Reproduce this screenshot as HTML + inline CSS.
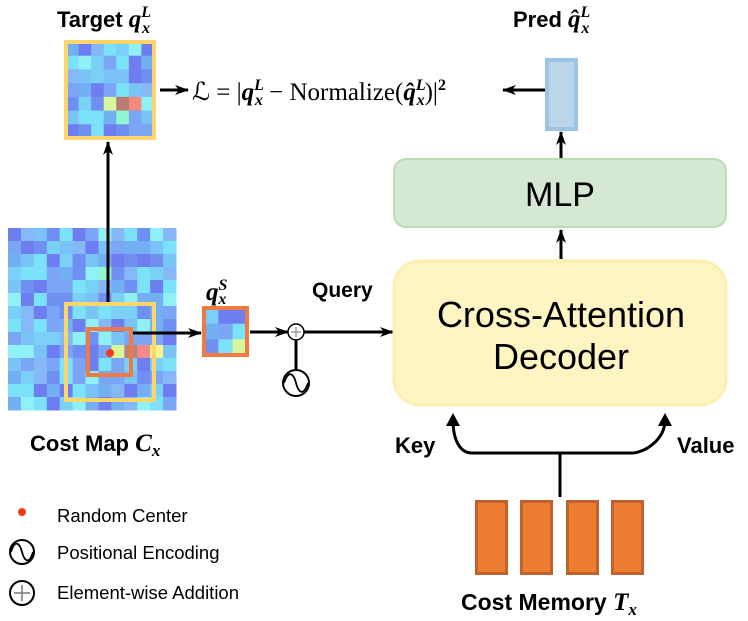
<!DOCTYPE html>
<html><head><meta charset="utf-8"><style>
html,body{margin:0;padding:0;background:#fff;}
svg{display:block;}
text{font-family:"Liberation Sans","DejaVu Sans",sans-serif;fill:#000;}
.b{font-weight:bold;}
.m{font-family:"Liberation Serif","DejaVu Serif",serif;font-style:italic;font-weight:bold;}
.sf{font-family:"Liberation Serif","DejaVu Serif",serif;}
</style></head><body>
<svg id="s" width="748" height="621" viewBox="0 0 748 621" xmlns="http://www.w3.org/2000/svg">
<defs>
<marker id="a" markerWidth="14" markerHeight="12" refX="13" refY="6" orient="auto" markerUnits="userSpaceOnUse">
<path d="M0,1 L14,6 L0,11 L4,6 Z" fill="#000"/></marker>
</defs>
<g id="cm"></g>
<g id="tg"></g>
<g id="qs"></g>
<rect x="66" y="304" width="88" height="96" fill="none" stroke="#fdd56a" stroke-width="4"/>
<rect x="88" y="329" width="43" height="46" fill="none" stroke="#ee7a44" stroke-width="4"/>
<circle cx="110" cy="353" r="4" fill="#f43a16"/>
<rect x="66" y="42" width="88" height="96" fill="none" stroke="#fdd56a" stroke-width="4"/>
<rect x="204" y="308" width="43" height="47" fill="none" stroke="#ee7a44" stroke-width="4"/>
<line x1="108" y1="302" x2="108" y2="142" stroke="#000" stroke-width="3" marker-end="url(#a)"/>
<line x1="133" y1="333" x2="201" y2="333" stroke="#000" stroke-width="3" marker-end="url(#a)"/>
<line x1="160" y1="90" x2="188" y2="90" stroke="#000" stroke-width="3" marker-end="url(#a)"/>
<line x1="545" y1="90" x2="503" y2="90" stroke="#000" stroke-width="3" marker-end="url(#a)"/>
<line x1="250" y1="332" x2="288" y2="332" stroke="#000" stroke-width="3" marker-end="url(#a)"/>
<line x1="304" y1="332" x2="393" y2="332" stroke="#000" stroke-width="3" marker-end="url(#a)"/>
<line x1="296" y1="340" x2="296" y2="370" stroke="#000" stroke-width="3"/>
<circle cx="296" cy="332" r="8" fill="#fff" stroke="#000" stroke-width="1.5"/>
<path d="M291,332 H301 M296,327 V337" stroke="#888" stroke-width="1.2"/>
<circle cx="296" cy="383" r="13" fill="#fff" stroke="#000" stroke-width="2"/>
<path d="M284,383 C289,368 294,375 296,383 C298,391 303,398 308,383" fill="none" stroke="#000" stroke-width="1.8"/>
<rect x="547" y="60" width="29" height="69" fill="#bdd5ea" stroke="#9dc3e6" stroke-width="4"/>
<line x1="561" y1="158" x2="561" y2="132" stroke="#000" stroke-width="3" marker-end="url(#a)"/>
<rect x="394" y="159" width="332" height="68" rx="12" fill="#d5e8d4" stroke="#bcdcb6" stroke-width="2"/>
<text x="560" y="206" font-size="34" text-anchor="middle">MLP</text>
<line x1="561" y1="259" x2="561" y2="230" stroke="#000" stroke-width="3" marker-end="url(#a)"/>
<rect x="394" y="261" width="332" height="144" rx="26" fill="#fff5c3" stroke="#fdeeb3" stroke-width="3"/>
<text x="561" y="327" font-size="36" text-anchor="middle">Cross-Attention</text>
<text x="561" y="369" font-size="36" text-anchor="middle">Decoder</text>
<text x="312" y="297" font-size="21" class="b">Query</text>
<path d="M560,497 V453 M472,453 H632 M472,453 C460,453 453,440 453,420 M632,453 C644,453 665,440 665,420" fill="none" stroke="#000" stroke-width="3"/>
<path d="M446,426 L453,413 L460,426 Z M658,426 L665,413 L672,426 Z" fill="#000"/>
<text x="395" y="453" font-size="22" class="b">Key</text>
<text x="677" y="453" font-size="22" class="b">Value</text>
<g fill="#ed7d31" stroke="#c0622b" stroke-width="3">
<rect x="476.5" y="501.5" width="30" height="72"/>
<rect x="521.5" y="501.5" width="30" height="72"/>
<rect x="567.5" y="501.5" width="30" height="72"/>
<rect x="612.5" y="501.5" width="30" height="72"/>
</g>
<text x="461" y="610" font-size="23" class="b">Cost Memory <tspan class="m" font-size="25">T</tspan><tspan class="m" font-size="17" dy="5">x</tspan></text>
<text x="57" y="27" font-size="22" class="b">Target <tspan class="m" font-size="25">q</tspan><tspan class="m" font-size="16" dy="-10">L</tspan><tspan class="m" font-size="16" dx="-9" dy="16">x</tspan></text>
<text x="513" y="27" font-size="22" class="b">Pred <tspan class="m" font-size="25">q̂</tspan><tspan class="m" font-size="16" dy="-10">L</tspan><tspan class="m" font-size="16" dx="-9" dy="16">x</tspan></text>
<text x="206" y="300" font-size="25" class="m">q<tspan font-size="16" dy="-10">S</tspan><tspan font-size="16" dx="-9" dy="14">x</tspan></text>
<text x="192" y="100" font-size="25" class="sf">ℒ = |<tspan class="m">q</tspan><tspan class="m" font-size="16" dy="-10">L</tspan><tspan class="m" font-size="16" dx="-9" dy="15">x</tspan><tspan dy="-5"> − Normalize(</tspan><tspan class="m">q̂</tspan><tspan class="m" font-size="16" dy="-10">L</tspan><tspan class="m" font-size="16" dx="-9" dy="15">x</tspan><tspan dy="-5">)|</tspan><tspan font-size="16" font-weight="bold" dy="-10">2</tspan></text>
<text x="30" y="451" font-size="22" class="b">Cost Map <tspan class="m" font-size="25">C</tspan><tspan class="m" font-size="17" dy="5">x</tspan></text>
<circle cx="22" cy="512" r="4" fill="#f43a16"/>
<text x="57" y="522" font-size="18.5">Random Center</text>
<circle cx="22" cy="552" r="12" fill="none" stroke="#000" stroke-width="2"/>
<path d="M11,552 C15,538 20,544 22,552 C24,560 29,566 33,552" fill="none" stroke="#000" stroke-width="1.8"/>
<text x="57" y="559" font-size="18.5">Positional Encoding</text>
<circle cx="22" cy="593" r="12" fill="none" stroke="#000" stroke-width="2"/>
<path d="M14,593 H30 M22,585 V601" stroke="#777" stroke-width="1.5"/>
<text x="57" y="599" font-size="18.5">Element-wise Addition</text>
</svg>
<script>
(function(){
var ns="http://www.w3.org/2000/svg";
var pal=["#7aa6f5","#79c3f6","#6f8ff2","#7be2fa","#6e7ef0","#86b8f8","#7ad0f7","#8ff0f6","#73b0f3"];
var seed=7;function r(){seed=(seed*9301+49297)%233280;return seed/233280;}
function grid(g,x0,y0,w,h,c,rw,sp){
 var cw=w/c,ch=h/rw;
 for(var i=0;i<rw;i++)for(var j=0;j<c;j++){
  var col=pal[Math.floor(r()*pal.length)];
  var k=i+","+j; if(sp&&sp[k])col=sp[k];
  var e=document.createElementNS(ns,"rect");
  e.setAttribute("x",x0+j*cw);e.setAttribute("y",y0+i*ch);
  e.setAttribute("width",cw+0.5);e.setAttribute("height",ch+0.5);
  e.setAttribute("fill",col);g.appendChild(e);}
}
grid(document.getElementById("cm"),8,228,168,182,13,14,{"9,8":"#d8f79a","9,9":"#b88383","9,10":"#f58b86","9,11":"#f5f58a","3,7":"#8ff6d4"});
grid(document.getElementById("tg"),66,42,88,96,7,7,{"4,3":"#d8f79a","4,4":"#b87a74","4,5":"#f58b7a","5,4":"#8ff6d4"});
grid(document.getElementById("qs"),204,308,43,47,3,3,{"2,2":"#d8f79a"});
})();
</script>
</body></html>
